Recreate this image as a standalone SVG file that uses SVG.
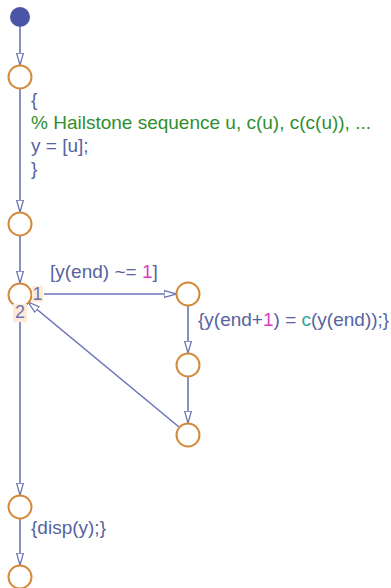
<svg xmlns="http://www.w3.org/2000/svg" width="391" height="588" viewBox="0 0 391 588">
<defs>
<style>
.j{fill:#fff;stroke:#d4893a;stroke-width:2}
.c{fill:none;stroke:#6b74b8;stroke-width:1.6}
.t{font-family:"Liberation Sans",Arial,sans-serif;font-size:19px;fill:#5563a0}
.g{fill:#2f8f2f}
.m{fill:#d63fc4}
.k{fill:#2aa39a}
.n{font-family:"Liberation Sans",Arial,sans-serif;font-size:18px;fill:#6b74b8;text-anchor:middle}
.lb{fill:#fdebd6}
</style>
<marker id="a" viewBox="0 0 12 8" refX="12" refY="4" markerWidth="12" markerHeight="8" markerUnits="userSpaceOnUse" orient="auto">
<path d="M0,0.5 L12,4 L0,7.5 Z" fill="#fff" stroke="#6b74b8" stroke-width="1.3"/>
</marker>
</defs>
<rect width="391" height="588" fill="#fff"/>
<g id="connectors">
<line class="c" x1="20" y1="27" x2="20" y2="65" marker-end="url(#a)"/>
<line class="c" x1="20" y1="89" x2="20" y2="212" marker-end="url(#a)"/>
<line class="c" x1="20" y1="236" x2="20" y2="283" marker-end="url(#a)"/>
<line class="c" x1="44" y1="294" x2="176" y2="294" marker-end="url(#a)"/>
<line class="c" x1="188" y1="305" x2="188" y2="353" marker-end="url(#a)"/>
<line class="c" x1="188" y1="377" x2="188" y2="423" marker-end="url(#a)"/>
<line class="c" x1="179" y1="427" x2="28" y2="302" marker-end="url(#a)"/>
<line class="c" x1="20" y1="322" x2="20" y2="495" marker-end="url(#a)"/>
<line class="c" x1="20" y1="519" x2="20" y2="565" marker-end="url(#a)"/>
</g>
<g id="default">
<circle cx="20" cy="17" r="10" fill="#4a55a8"/>
</g>
<g id="j1"><circle class="j" cx="20" cy="77" r="11.5"/></g>
<g id="j1label">
<text class="t" x="31" y="106">{</text>
<text class="t g" x="31" y="129">% Hailstone sequence u, c(u), c(c(u)), ...</text>
<text class="t" x="31" y="152">y = [u];</text>
<text class="t" x="31" y="175">}</text>
</g>
<g id="j2"><circle class="j" cx="20" cy="224" r="11.5"/></g>
<g id="j3">
<circle class="j" cx="20" cy="295" r="11.5"/>
<rect class="lb" x="32" y="286" width="11" height="16"/>
<text class="n" x="37.5" y="300">1</text>
<rect class="lb" x="13" y="304" width="14" height="18"/>
<text class="n" x="20" y="318">2</text>
</g>
<g id="guard">
<text class="t" x="50" y="278">[y(end) ~= <tspan class="m">1</tspan>]</text>
</g>
<g id="r1"><circle class="j" cx="188" cy="294" r="11.5"/></g>
<g id="action1">
<text class="t" x="198" y="326">{y(end+<tspan class="m">1</tspan>) = <tspan class="k">c</tspan>(y(end));}</text>
</g>
<g id="r2"><circle class="j" cx="188" cy="365" r="11.5"/></g>
<g id="r3"><circle class="j" cx="188" cy="435" r="11.5"/></g>
<g id="j4"><circle class="j" cx="20" cy="507" r="11.5"/></g>
<g id="action2">
<text class="t" x="31" y="534">{disp(y);}</text>
</g>
<g id="j5"><circle class="j" cx="20" cy="577" r="11.5"/></g>
</svg>
